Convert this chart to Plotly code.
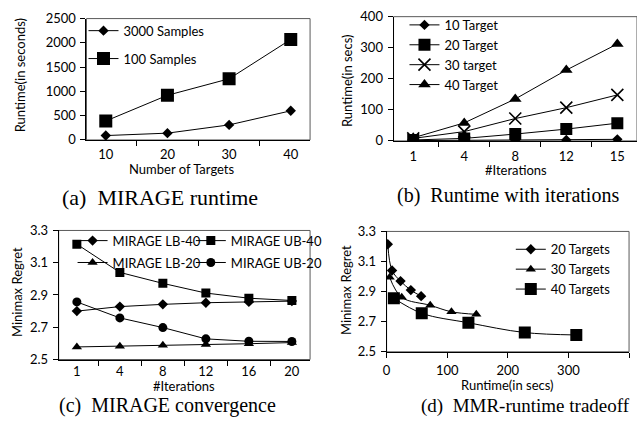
import plotly.graph_objects as go

W, H = 637, 433

# ---------------- data ----------------
# (a) MIRAGE runtime
targets_a = ["10", "20", "30", "40"]
runtime_3000 = [90, 140, 310, 600]
runtime_100 = [390, 920, 1260, 2070]

# (b) Runtime with iterations
iters_b = ["1", "4", "8", "12", "15"]
rt_10 = [1, 2, 2, 3, 5]
rt_20 = [3, 8, 22, 38, 57]
rt_30 = [8, 30, 72, 107, 148]
rt_40 = [10, 58, 135, 228, 312]

# (c) MIRAGE convergence
iters_c = ["1", "4", "8", "12", "16", "20"]
lb40 = [2.80, 2.828, 2.842, 2.852, 2.857, 2.862]
ub40 = [3.215, 3.04, 2.972, 2.912, 2.88, 2.866]
lb20 = [2.578, 2.582, 2.588, 2.593, 2.598, 2.605]
ub20 = [2.857, 2.758, 2.698, 2.628, 2.613, 2.612]

# (d) MMR-runtime tradeoff
rt20_d = [2, 9, 23, 40, 57]
mmr20_d = [3.215, 3.04, 2.97, 2.91, 2.87]
rt30_d = [5, 25, 72, 107, 148]
mmr30_d = [2.995, 2.862, 2.809, 2.766, 2.749]
rt40_d = [12, 58, 135, 228, 313]
mmr40_d = [2.856, 2.756, 2.693, 2.628, 2.612]

FONT = "Lato"
BLK = "black"


def px(x):
    return x / W


def py(y):
    return 1 - y / H


fig = go.Figure()


def add(x, y, name, symbol, size, xa, ya, legend, shape="linear", group=None):
    mk = dict(symbol=symbol, size=size, color=BLK)
    if symbol.startswith("x-thin"):
        mk["line"] = dict(width=1.6, color=BLK)
    fig.add_trace(go.Scatter(
        x=x, y=y, name=name, mode="lines+markers",
        line=dict(color=BLK, width=1, shape=shape),
        marker=mk, xaxis=xa, yaxis=ya, legend=legend,
        legendgroup=group or name,
    ))


# (a)
add(targets_a, runtime_3000, "3000 Samples", "diamond", 8, "x", "y", "legend")
add(targets_a, runtime_100, "100 Samples", "square", 13, "x", "y", "legend")
# (b)
add(iters_b, rt_10, "10 Target", "diamond", 8, "x2", "y2", "legend2")
add(iters_b, rt_20, "20 Target", "square", 12, "x2", "y2", "legend2")
add(iters_b, rt_30, "30 target", "x-thin", 12, "x2", "y2", "legend2")
add(iters_b, rt_40, "40 Target", "triangle-up", 11, "x2", "y2", "legend2")
# (c)
add(iters_c, lb40, "MIRAGE LB-40", "diamond", 8, "x3", "y3", "legend3")
add(iters_c, ub40, "MIRAGE UB-40", "square", 9, "x3", "y3", "legend4")
add(iters_c, lb20, "MIRAGE LB-20", "triangle-up", 9, "x3", "y3", "legend3")
add(iters_c, ub20, "MIRAGE UB-20", "circle", 9, "x3", "y3", "legend4")
# (d)
add(rt20_d, mmr20_d, "20 Targets", "diamond", 8, "x4", "y4", "legend5", "spline")
add(rt30_d, mmr30_d, "30 Targets", "triangle-up", 9, "x4", "y4", "legend5", "spline")
add(rt40_d, mmr40_d, "40 Targets", "square", 12, "x4", "y4", "legend5", "spline")

tickfont = dict(family=FONT, size=13, color=BLK)


def cat_x(domain, anchor, standoff=2):
    return dict(domain=domain, anchor=anchor, type="category", tickson="boundaries",
                ticks="outside", ticklen=5, tickcolor=BLK, showline=True, linecolor=BLK,
                linewidth=1, showgrid=False, zeroline=False, tickfont=tickfont,
                ticklabelstandoff=standoff)


def num_ax(domain, anchor, rng, dtick, fmt=None, standoff=2):
    d = dict(domain=domain, anchor=anchor, range=rng, dtick=dtick, tick0=rng[0],
             ticks="outside", ticklen=5, tickcolor=BLK, showline=True, linecolor=BLK,
             linewidth=1, showgrid=False, zeroline=False, tickfont=tickfont,
             ticklabelstandoff=standoff)
    if fmt:
        d["tickformat"] = fmt
    return d


def leg(x, y, gap):
    return dict(x=px(x), y=py(y), xanchor="left", yanchor="top", bgcolor="rgba(0,0,0,0)",
                font=dict(family=FONT, size=13, color=BLK), itemwidth=30,
                traceorder="grouped", tracegroupgap=gap, borderwidth=0)


fig.update_layout(
    width=W, height=H, margin=dict(l=0, r=0, t=0, b=0),
    paper_bgcolor="white", plot_bgcolor="white",
    showlegend=True,
    xaxis=cat_x([px(83), px(308)], "y"),
    yaxis=num_ax([py(137), py(11)], "x", [0, 2500], 500),
    xaxis2=cat_x([px(392), 1.0], "y2", 3),
    yaxis2=num_ax([py(138), py(9)], "x2", [0, 400], 100),
    xaxis3=cat_x([px(55), px(308)], "y3", 0),
    yaxis3=num_ax([py(365), py(231)], "x3", [2.5, 3.3], 0.2, ".1f"),
    xaxis4=num_ax([px(385), px(629)], "y4", [0, 400], 100, standoff=2),
    yaxis4=num_ax([py(357), py(232)], "x4", [2.5, 3.3], 0.2, ".1f"),
    legend=leg(80, 8, 8),
    legend2=leg(403, 2, 0),
    legend3=leg(69, 226, 2),
    legend4=leg(188, 226, 2),
    legend5=leg(510, 235, 0),
)

# plot-area frames
for xa, ya in [("x", "y"), ("x2", "y2"), ("x3", "y3"), ("x4", "y4")]:
    fig.add_shape(type="rect", xref=f"{xa} domain", yref=f"{ya} domain",
                  x0=0, x1=1, y0=0, y1=1, line=dict(color="#5a5a5a", width=1),
                  layer="below")

ann = []
tf = dict(family=FONT, size=13, color=BLK)


def txt(x, y, s, angle=0, font=tf):
    ann.append(dict(x=px(x), y=py(y), xref="paper", yref="paper", text=s, showarrow=False,
                    textangle=angle, font=font, xanchor="center", yanchor="middle"))


# axis titles
txt(17, 70, "Runtime(in seconds)", -90)
txt(179, 167, "Number of Targets")
txt(345, 75, "Runtime(in secs)", -90)
txt(515, 168, "#Iterations")
txt(13, 295, "Minimax Regret", -90)
txt(181, 392, "#Iterations")
txt(344, 293, "Minimax Regret", -90)
txt(507, 391, "Runtime(in secs)")


# captions
def cap(size):
    return dict(family="Liberation Serif", size=size, color=BLK)


txt(157, 197, "(a)  MIRAGE runtime", font=cap(22))
txt(507, 195, "(b)  Runtime with iterations", font=cap(20))
txt(165, 413, "(c)  MIRAGE convergence", font=cap(20))
txt(525, 413, "(d)  MMR-runtime tradeoff", font=cap(19))

fig.update_layout(annotations=ann)

fig.write_html("out.html", config={"displayModeBar": False},
               post_script="document.body.style.margin='0px';")
